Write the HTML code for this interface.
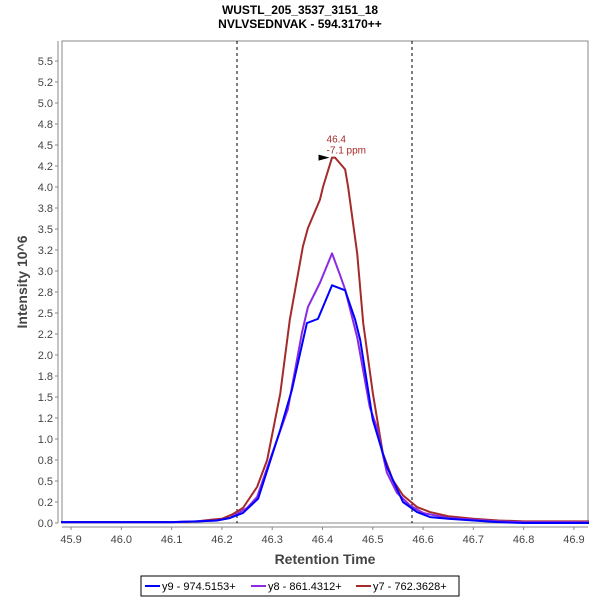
<!DOCTYPE html>
<html><head><meta charset="utf-8"><style>
body{margin:0;background:#fff;width:600px;height:600px;overflow:hidden;font-family:"Liberation Sans",sans-serif}
</style></head><body>
<svg id="chart" width="600" height="600" xmlns="http://www.w3.org/2000/svg" font-family="Liberation Sans, sans-serif">
<text x="300" y="14" text-anchor="middle" font-size="12" font-weight="bold">WUSTL_205_3537_3151_18</text>
<text x="300" y="28" text-anchor="middle" font-size="12" font-weight="bold">NVLVSEDNVAK - 594.3170++</text>
<rect x="62" y="41" width="526" height="482" fill="#fff" stroke="#888"/>
<g id="yaxis"></g>
<g id="xaxis"></g>
<g id="marks"></g>
<text transform="translate(27,282) rotate(-90)" text-anchor="middle" font-size="14" font-weight="bold" fill="#444">Intensity 10^6</text>
<text x="325" y="564" text-anchor="middle" font-size="14" font-weight="bold" fill="#444">Retention Time</text>
<g>
<rect x="141" y="576" width="318" height="20" fill="#fff" stroke="#000"/>
<line x1="145" y1="586" x2="160" y2="586" stroke="#0000ff" stroke-width="2"/>
<text x="162" y="590" font-size="11">y9 - 974.5153+</text>
<line x1="251" y1="586" x2="266" y2="586" stroke="#8a2be2" stroke-width="2"/>
<text x="268" y="590" font-size="11">y8 - 861.4312+</text>
<line x1="356" y1="586" x2="371" y2="586" stroke="#a52a2a" stroke-width="2"/>
<text x="373" y="590" font-size="11">y7 - 762.3628+</text>
</g>
</svg>
<script>
const yTicks=[0,0.25,0.5,0.75,1,1.25,1.5,1.75,2,2.25,2.5,2.75,3,3.25,3.5,3.75,4,4.25,4.5,4.75,5,5.25,5.5];
const yTickLabels=["0.0","0.2","0.5","0.8","1.0","1.2","1.5","1.8","2.0","2.2","2.5","2.8","3.0","3.2","3.5","3.8","4.0","4.2","4.5","4.8","5.0","5.2","5.5"];
const xTicks=[45.9,46.0,46.1,46.2,46.3,46.4,46.5,46.6,46.7,46.8,46.9];
const xTickLabels=["45.9","46.0","46.1","46.2","46.3","46.4","46.5","46.6","46.7","46.8","46.9"];
const boundaries=[46.23,46.578];
const y9x=[45.88,46.1,46.15,46.19,46.216,46.242,46.272,46.316,46.339,46.369,46.391,46.419,46.445,46.465,46.475,46.5,46.528,46.56,46.588,46.614,46.65,46.7,46.75,46.8,46.93];
const y9v=[0.01,0.01,0.02,0.03,0.06,0.12,0.29,1.11,1.58,2.38,2.43,2.83,2.77,2.42,2.18,1.23,0.67,0.25,0.13,0.07,0.05,0.03,0.01,0.0,0.0];
const y8x=[45.88,46.1,46.15,46.19,46.216,46.25,46.27,46.30,46.331,46.359,46.371,46.395,46.419,46.435,46.445,46.469,46.494,46.508,46.528,46.548,46.574,46.6,46.65,46.7,46.75,46.8,46.93];
const y8v=[0.01,0.01,0.02,0.03,0.06,0.18,0.31,0.83,1.35,2.26,2.57,2.86,3.21,2.95,2.78,2.21,1.38,1.14,0.6,0.36,0.21,0.12,0.06,0.04,0.02,0.01,0.01];
const y7x=[45.88,46.1,46.15,46.18,46.2,46.22,46.242,46.27,46.29,46.316,46.335,46.361,46.371,46.395,46.401,46.419,46.425,46.445,46.451,46.469,46.481,46.5,46.52,46.54,46.56,46.588,46.614,46.65,46.7,46.75,46.8,46.93];
const y7v=[0.01,0.01,0.02,0.04,0.05,0.1,0.18,0.43,0.75,1.54,2.42,3.29,3.51,3.85,4.0,4.35,4.35,4.21,4.0,3.21,2.38,1.55,0.83,0.51,0.33,0.19,0.13,0.08,0.05,0.03,0.02,0.02];
const peakX=46.42, peakV=4.35;

const NS="http://www.w3.org/2000/svg";
const X0=62,X1=588,Y0=523,Y1=41;
const xMin=45.882,xMax=46.928,yMin=0,yMax=5.738;
function sx(v){return X0+(v-xMin)/(xMax-xMin)*(X1-X0);}
function sy(v){return Y0-(v-yMin)/(yMax-yMin)*(Y0-Y1);}
function mk(tag,attrs,parent){const e=document.createElementNS(NS,tag);for(const k in attrs)e.setAttribute(k,attrs[k]);parent.appendChild(e);return e;}
const ya=document.getElementById('yaxis'),xa=document.getElementById('xaxis'),mg=document.getElementById('marks');
mk('line',{x1:58,y1:Y1,x2:58,y2:Y0,stroke:'#888'},ya);
yTicks.forEach((t,i)=>{const y=sy(t);
 mk('line',{x1:55,y1:y,x2:58,y2:y,stroke:'#888'},ya);
 const tx=mk('text',{x:53,y:y+4,'text-anchor':'end','font-size':11,fill:'#444'},ya);
 tx.textContent=yTickLabels[i];
 
 
});
mk('line',{x1:X0,y1:527,x2:X1,y2:527,stroke:'#888'},xa);
xTicks.forEach((t,i)=>{const x=sx(t);
 mk('line',{x1:x,y1:527,x2:x,y2:530,stroke:'#888'},xa);
 const tx=mk('text',{x:x,y:543,'text-anchor':'middle','font-size':11,fill:'#444'},xa);
 tx.textContent=xTickLabels[i];
 
 
});
boundaries.forEach(b=>{const l=mk('line',{x1:sx(b),y1:Y1,x2:sx(b),y2:Y0,stroke:'#000','stroke-dasharray':'3,3','stroke-width':1},mg);
 
 
});
function series(xs,vs,color,name){
 const p=mk('polyline',{points:xs.map((x,i)=>sx(x)+','+sy(vs[i])).join(' '),fill:'none',stroke:color,'stroke-width':2,'stroke-linejoin':'round'},mg);
 
 
}
series(y7x,y7v,'#a52a2a','series-y7');
series(y8x,y8v,'#8a2be2','series-y8');
series(y9x,y9v,'#0000ff','series-y9');
const px=sx(peakX),py=sy(peakV);
const ar=mk('polygon',{points:(px-3)+','+py+' '+(px-14)+','+(py-3)+' '+(px-14)+','+(py+3),fill:'#000'},mg);


const t1=mk('text',{x:px-6,y:py-15,'font-size':10,fill:'#a52a2a'},mg);t1.textContent=peakX.toFixed(1);


const t2=mk('text',{x:px-6,y:py-4,'font-size':10,fill:'#a52a2a'},mg);t2.textContent='-7.1 ppm';


</script>
</body></html>
